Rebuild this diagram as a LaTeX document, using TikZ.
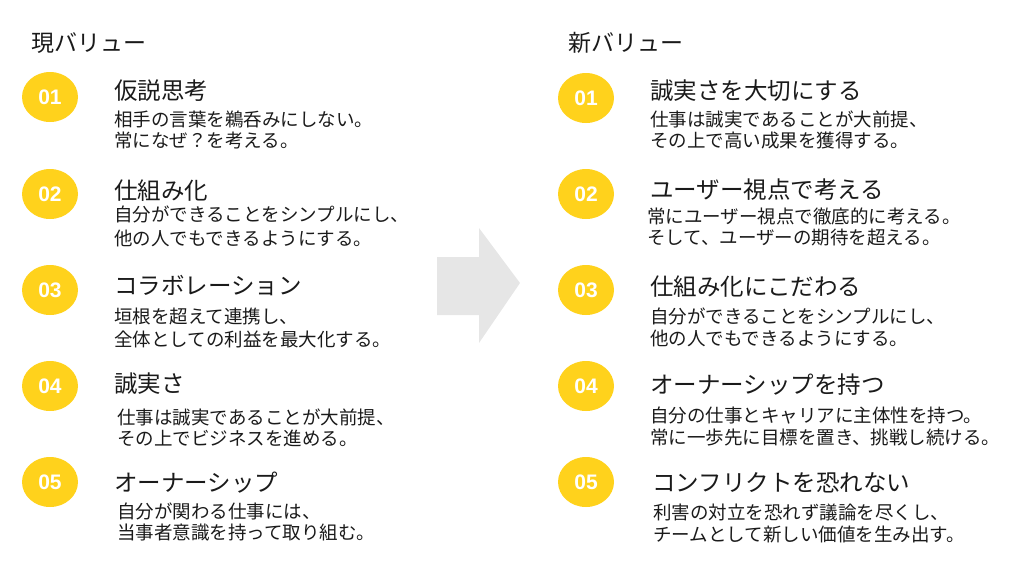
\documentclass[tikz,border=0pt]{standalone}
\usepackage{fontspec}
\newfontfamily\jp{Noto Sans CJK JP}
\newfontfamily\numfont{Liberation Sans}
\definecolor{gold}{RGB}{255,210,28}
\definecolor{arrowgray}{RGB}{230,230,230}
\definecolor{ink}{RGB}{26,26,26}
\begin{document}
\begin{tikzpicture}[x=1pt,y=-1pt,
  badge/.style={ellipse,fill=gold,minimum width=56pt,minimum height=50pt,inner sep=0pt,
    text=white,font=\numfont\bfseries\fontsize{21}{21}\selectfont},
  heading/.style={anchor=west,inner sep=0pt,text=ink,font=\jp\fontsize{23}{23}\selectfont},
  itemtitle/.style={anchor=west,inner sep=0pt,text=ink,font=\jp\fontsize{23.5}{23.5}\selectfont},
  itemdesc/.style={anchor=west,inner sep=0pt,text=ink,font=\jp\fontsize{18.5}{18.5}\selectfont}]
\useasboundingbox (0,0) rectangle (1026,574);
\usetikzlibrary{shapes.geometric}
% headings
\node[heading] (hL) at (31,43) {現バリュー};
\node[heading] (hR) at (568,43) {新バリュー};
% arrow
\fill[arrowgray] (437,257) -- (479,257) -- (479,228) -- (520,283) -- (479,343) -- (479,315) -- (437,315) -- cycle;
% left column
\node[badge] (L1) at (50,97) {01};
\node[itemtitle] (L1t) at (114,91) {仮説思考};
\node[itemdesc] (L1a) at (114,119) {相手の言葉を鵜呑みにしない。};
\node[itemdesc] (L1b) at (114,140) {常になぜ？を考える。};
\node[badge] (L2) at (50,194) {02};
\node[itemtitle] (L2t) at (114,191) {仕組み化};
\node[itemdesc] (L2a) at (114,214) {自分ができることをシンプルにし、};
\node[itemdesc] (L2b) at (114,238) {他の人でもできるようにする。};
\node[badge] (L3) at (50,290) {03};
\node[itemtitle] (L3t) at (114,286) {コラボレーション};
\node[itemdesc] (L3a) at (114,316) {垣根を超えて連携し、};
\node[itemdesc] (L3b) at (114,339) {全体としての利益を最大化する。};
\node[badge] (L4) at (50,386) {04};
\node[itemtitle] (L4t) at (114,384) {誠実さ};
\node[itemdesc] (L4a) at (117,417) {仕事は誠実であることが大前提、};
\node[itemdesc] (L4b) at (117,438) {その上でビジネスを進める。};
\node[badge] (L5) at (50,482) {05};
\node[itemtitle] (L5t) at (114,483) {オーナーシップ};
\node[itemdesc] (L5a) at (117,511) {自分が関わる仕事には、};
\node[itemdesc] (L5b) at (117,533) {当事者意識を持って取り組む。};
% right column
\node[badge] (R1) at (586,98) {01};
\node[itemtitle] (R1t) at (650,91) {誠実さを大切にする};
\node[itemdesc] (R1a) at (650,119) {仕事は誠実であることが大前提、};
\node[itemdesc] (R1b) at (650,141) {その上で高い成果を獲得する。};
\node[badge] (R2) at (586,194) {02};
\node[itemtitle] (R2t) at (650,190) {ユーザー視点で考える};
\node[itemdesc] (R2a) at (647,216) {常にユーザー視点で徹底的に考える。};
\node[itemdesc] (R2b) at (647,238) {そして、ユーザーの期待を超える。};
\node[badge] (R3) at (586,290) {03};
\node[itemtitle] (R3t) at (650,287) {仕組み化にこだわる};
\node[itemdesc] (R3a) at (650,316) {自分ができることをシンプルにし、};
\node[itemdesc] (R3b) at (650,338) {他の人でもできるようにする。};
\node[badge] (R4) at (586,386) {04};
\node[itemtitle] (R4t) at (650,385) {オーナーシップを持つ};
\node[itemdesc] (R4a) at (650,416) {自分の仕事とキャリアに主体性を持つ。};
\node[itemdesc] (R4b) at (650,438) {常に一歩先に目標を置き、挑戦し続ける。};
\node[badge] (R5) at (586,482) {05};
\node[itemtitle] (R5t) at (652,483) {コンフリクトを恐れない};
\node[itemdesc] (R5a) at (653,513) {利害の対立を恐れず議論を尽くし、};
\node[itemdesc] (R5b) at (653,534) {チームとして新しい価値を生み出す。};
\end{tikzpicture}
\end{document}
